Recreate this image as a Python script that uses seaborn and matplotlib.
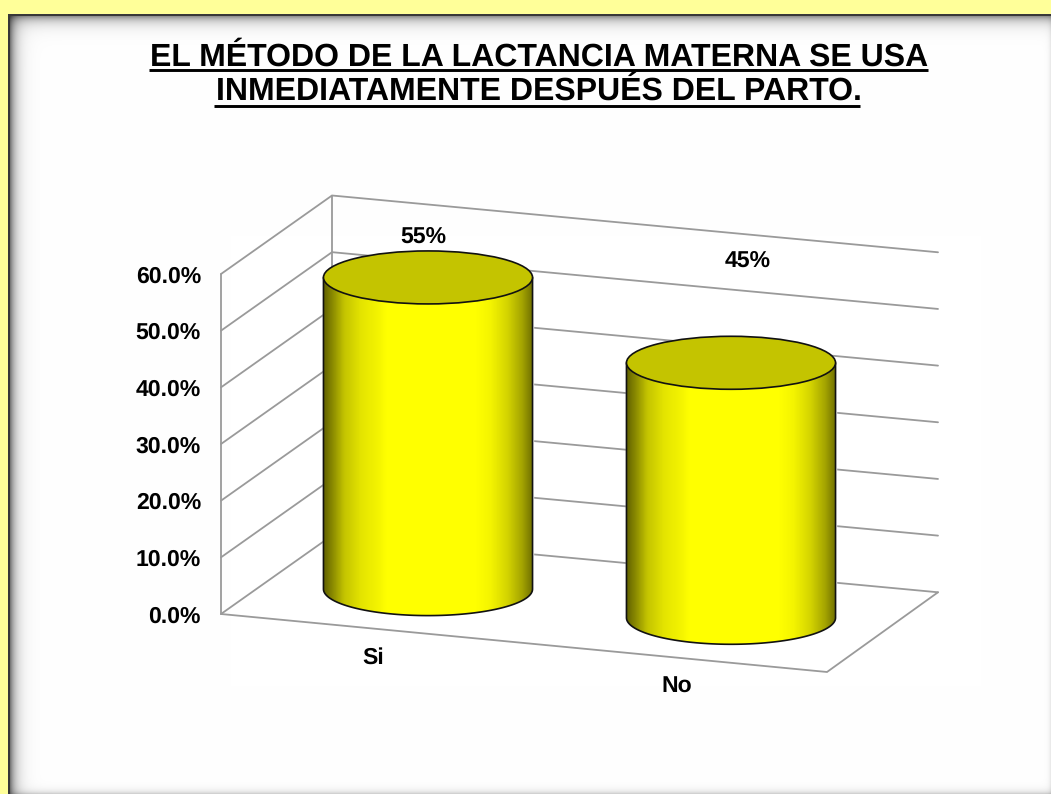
import numpy as np
import pandas as pd
import matplotlib
matplotlib.use("Agg")
import matplotlib.pyplot as plt
import seaborn as sns
from matplotlib.colors import LinearSegmentedColormap
from matplotlib.patches import Ellipse
from matplotlib.path import Path
from matplotlib.transforms import Affine2D, IdentityTransform

categories = ["Si", "No"]
values = [55, 45]
value_labels = ["55%", "45%"]
value_ticks = [0, 10, 20, 30, 40, 50, 60]
title_text = "EL MÉTODO DE LA LACTANCIA MATERNA SE USA\nINMEDIATAMENTE DESPUÉS DEL PARTO."

W, H = 1051, 794
sns.set_theme(style="white")
plt.rcParams["font.family"] = ["Liberation Sans", "DejaVu Sans"]
plt.rcParams["font.weight"] = "bold"
plt.rcParams["text.hinting"] = "none"

fig = plt.figure(figsize=(W / 100, H / 100), dpi=100, facecolor="#FFFF99")

# frame: pale yellow page, white panel, soft inner shadow
bg = fig.add_axes([0, 0, 1, 1], zorder=0)
bg.axis("off")
yy, xx = np.mgrid[0:H, 0:W]
img = np.ones((H, W, 3))
shade = np.ones((H, W))
shade *= 1 - 0.62 * np.exp(-np.clip(xx - 9, 0, None) / 6.0)
shade *= 1 - 0.50 * np.exp(-np.clip(yy - 15, 0, None) / 6.0)
shade *= 1 - 0.18 * np.exp(-np.clip(793 - yy, 0, None) / 3.0)
shade *= 1 - 0.08 * np.exp(-np.clip(1050 - xx, 0, None) / 2.0)
for i in range(3):
    img[..., i] = shade
page = (xx < 9) | (yy < 15)
img[page] = matplotlib.colors.to_rgb("#FFFF99")
edge = ((xx >= 8) & (xx < 10) & (yy >= 14)) | ((yy >= 14) & (yy < 16) & (xx >= 8))
img[edge] = (0.22, 0.22, 0.22)
bg.imshow(img, aspect="auto", interpolation="nearest", extent=(0, W, H, 0))

# plot plane: left/front face of the 3D box
ax = fig.add_axes([221 / W, (H - 614) / H, 606 / W, 340 / H], zorder=1)
ax.patch.set_visible(False)
df = pd.DataFrame({"categoria": categories, "valor": values})
sns.barplot(data=df, x="categoria", y="valor", color="#FFFF00", width=0.69,
            saturation=1, ax=ax, zorder=3)
ax.set_xlim(-0.5, 1.5)
ax.set_ylim(0, 60)
ax.set_xlabel("")
ax.set_ylabel("")
ax.set_yticks(value_ticks)
ax.set_yticklabels([f"{v:.1f}%" for v in value_ticks], fontsize=16.6, fontweight="bold", color="black")
ax.tick_params(axis="y", length=0, pad=14.4)
ax.tick_params(axis="x", length=0, labelbottom=False)
for s in ax.spines.values():
    s.set_visible(False)

fig.canvas.draw()
DEPTH = (111, 78.5)
ID = IdentityTransform()


def project(cat, depth, val):
    px, py = ax.transData.transform((cat, val))
    left = ax.transData.transform((-0.5, 0))[0]
    shear = 0.0957 - 0.0020 * depth
    return np.array([px + depth * DEPTH[0], py - shear * (px - left) + depth * DEPTH[1]])


GRID = "#9a9a9a"
LW = 1.3


def poly(points):
    pts = np.array(points)
    ax.plot(pts[:, 0], pts[:, 1], transform=ID, clip_on=False, color=GRID, lw=LW,
            solid_joinstyle="miter", zorder=1)


for v in value_ticks:
    poly([project(-0.5, 0, v), project(-0.5, 1, v), project(1.5, 1, v)])
poly([project(-0.5, 0, 0), project(-0.5, 0, 60)])
poly([project(-0.5, 1, 0), project(-0.5, 1, 60)])
poly([project(-0.5, 0, 0), project(1.5, 0, 0), project(1.5, 1, 0)])

cyl = LinearSegmentedColormap.from_list("cyl", [
    (0.00, "#606000"), (0.05, "#909000"), (0.10, "#c4c400"), (0.18, "#e4e400"),
    (0.27, "#f6f600"), (0.30, "#ffff00"), (0.73, "#ffff00"), (0.80, "#f4f400"),
    (0.88, "#d4d400"), (0.95, "#a4a400"), (1.00, "#707000")])
grad = np.linspace(0, 1, 256)[None, :]
B = 26.5
theta = np.linspace(np.pi, 2 * np.pi, 80)

for bar, cat, label, off in zip(ax.patches, range(len(categories)), value_labels,
                                [(-5, 40.5), (17, 102)]):
    val = bar.get_height()
    cx_data = bar.get_x() + bar.get_width() / 2
    base = project(cx_data, 0.5, 0)
    top = project(cx_data, 0.5, val)
    d0 = ax.transData.transform((cx_data, 0))
    x0 = ax.transData.transform((bar.get_x(), 0))[0]
    a = d0[0] - x0
    bar.set_transform(ax.transData + Affine2D().translate(*(base - d0)))
    bar.set_clip_on(False)

    arc = np.column_stack([base[0] + a * np.cos(theta), base[1] + B * np.sin(theta)])
    outline = np.vstack([[top[0] - a, top[1]], arc, [top[0] + a, top[1]]])
    im = ax.imshow(grad, cmap=cyl, aspect="auto", vmin=0, vmax=1, zorder=4,
                   extent=(base[0] - a, base[0] + a, base[1] - B, top[1]),
                   transform=ID, interpolation="bilinear")
    clip = Path(np.vstack([outline, outline[:1]]), closed=True)
    im.set_clip_box(fig.bbox)
    im.set_clip_path(clip, ID)
    ax.plot(outline[:, 0], outline[:, 1], transform=ID, clip_on=False, color="#111111",
            lw=1.2, zorder=5)
    ax.add_patch(Ellipse(top, 2 * a, 2 * B, transform=ID, facecolor="#C4C400",
                         edgecolor="#111111", lw=1.2, clip_on=False, zorder=6))
    ax.text(*(top + np.array(off)), label, transform=ID, ha="center", va="center",
            fontsize=16.6, fontweight="bold", color="black", zorder=7)
    lab = project(cx_data, 0, 0)
    ax.text(lab[0] + 1, lab[1] - 29.5, categories[cat], transform=ID, ha="center", va="center",
            fontsize=16.6, fontweight="bold", color="black", zorder=7)

ax.set_xlim(-0.5, 1.5)
ax.set_ylim(0, 60)

fig.text(539 / W, 1 - 74.5 / H, title_text, ha="center", va="center", fontsize=23.05,
         fontweight="bold", color="black", linespacing=1.2, zorder=5)
for (x1, x2, y) in [(149, 928, 69.5), (214, 860, 106)]:
    fig.add_artist(plt.Line2D([x1 / W, x2 / W], [1 - y / H] * 2, color="black", lw=2.1,
                              solid_capstyle="butt", transform=fig.transFigure))

fig.savefig("out.png", dpi=100, facecolor=fig.get_facecolor())
